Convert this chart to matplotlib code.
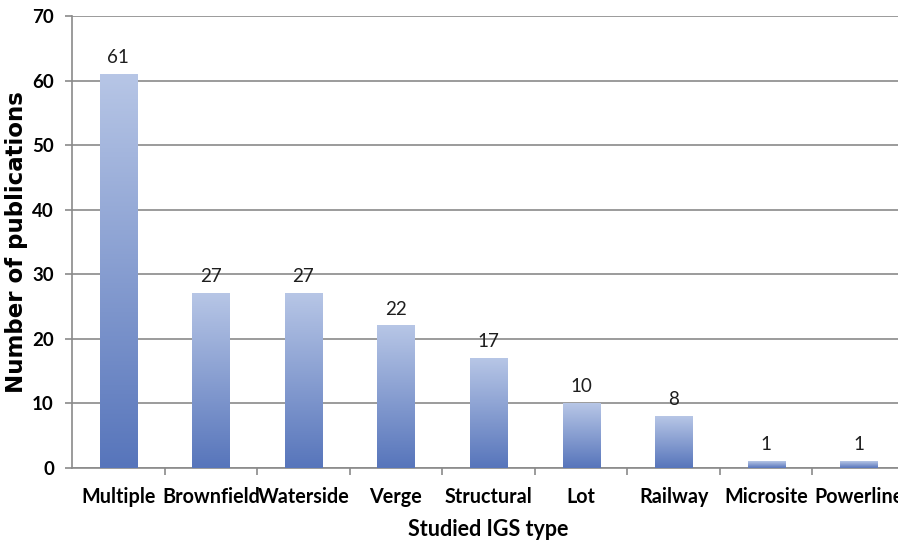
import matplotlib.pyplot as plt
import numpy as np
from matplotlib.colors import LinearSegmentedColormap

plt.rcParams['font.family'] = ['Lato', 'DejaVu Sans']

igs_types = ['Multiple', 'Brownfield', 'Waterside', 'Verge', 'Structural',
             'Lot', 'Railway', 'Microsite', 'Powerline']
publications = [61, 27, 27, 22, 17, 10, 8, 1, 1]

fig = plt.figure(figsize=(8.98, 5.4), dpi=100)
# axes runs slightly past the right edge, last label gets cut
ax = fig.add_axes([72 / 898, (540 - 468) / 540, (905 - 72) / 898, (468 - 16) / 540])

x = np.arange(len(igs_types))
bars = ax.bar(x, publications, width=0.4, color='none', zorder=3)

# vertical gradient inside every bar, light on top, darker at the base
cmap = LinearSegmentedColormap.from_list('bar_grad', ['#5775bb', '#b7c6e6'])
grad = np.linspace(0, 1, 256).reshape(-1, 1)
for b in bars:
    x0 = b.get_x()
    ax.imshow(grad, cmap=cmap, origin='lower', aspect='auto', zorder=3,
              extent=(x0, x0 + b.get_width(), 0, b.get_height()))
    ax.annotate(str(int(b.get_height())), (x0 + b.get_width() / 2, b.get_height()),
                xytext=(0, 6), textcoords='offset points', ha='center', va='bottom',
                fontsize=13.5, color='#1e1e1e')

ax.set_xlim(-0.5, len(igs_types) - 0.5)
ax.set_ylim(0, 70)
ax.set_yticks(range(0, 71, 10))
ax.yaxis.grid(True, color='#8a8a8a', linewidth=1.2)
ax.set_axisbelow(True)

ax.set_xticks(np.arange(0.5, len(igs_types) - 0.5, 1))
ax.set_xticklabels([])
ax.set_xticks(x, minor=True)
ax.set_xticklabels(igs_types, minor=True, fontweight='bold', fontsize=14.2)
ax.tick_params(axis='x', which='major', length=5, color='#8a8a8a', width=1.2)
ax.tick_params(axis='x', which='minor', length=0, pad=14)
ax.tick_params(axis='y', length=5, color='#8a8a8a', width=1.2, pad=8, labelsize=13.5)
for lbl in ax.get_yticklabels():
    lbl.set_fontweight('bold')

for side in ['top', 'right']:
    ax.spines[side].set_visible(False)
for side in ['left', 'bottom']:
    ax.spines[side].set_color('#8a8a8a')
    ax.spines[side].set_linewidth(1.2)

ax.set_xlabel('Studied IGS type', fontweight='bold', fontsize=15.5, labelpad=8)
ax.set_ylabel('Number of publications', fontweight='bold', fontsize=16.5,
              family=['DejaVu Sans'], labelpad=3)

plt.savefig('out.png', dpi=100)
